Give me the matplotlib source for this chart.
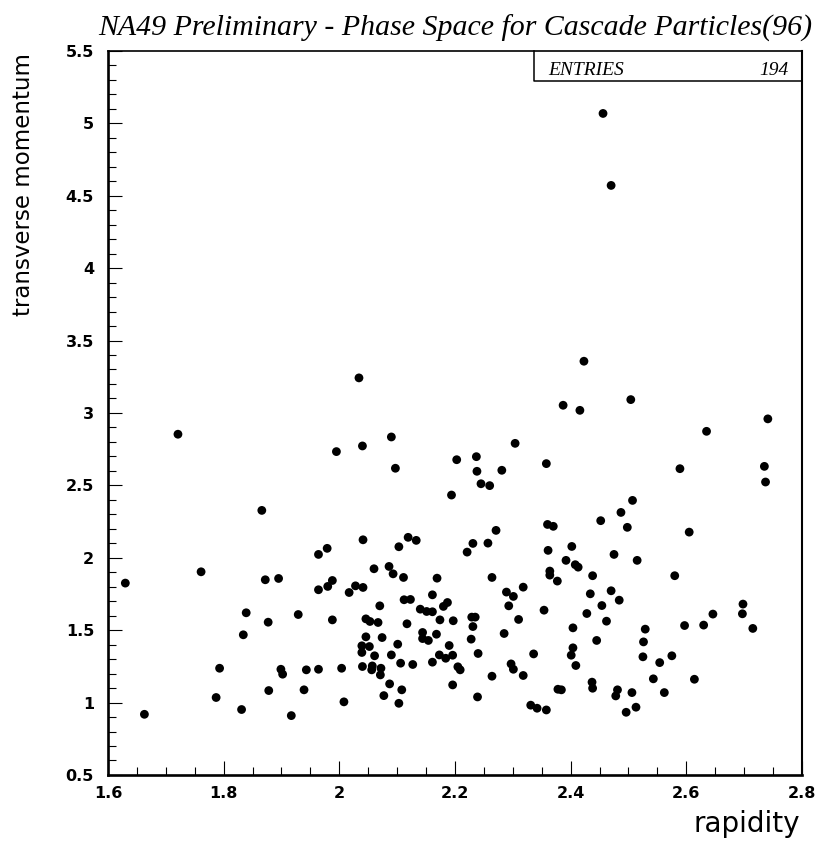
import matplotlib.pyplot as plt
from matplotlib import font_manager
from matplotlib.ticker import MultipleLocator, FormatStrFormatter
import numpy as np

# rapidity / transverse momentum of the cascade candidates
rapidity = [
    1.630, 1.663, 1.721, 1.761, 1.787, 1.793, 1.831, 1.834, 1.839, 1.866,
    1.872, 1.877, 1.878, 1.895, 1.899, 1.902, 1.917, 1.929, 1.939, 1.943,
    1.964, 1.964, 1.964,
    2.034, 2.090, 1.995, 2.040, 2.097, 2.304, 2.203, 2.237, 2.238, 2.281,
    2.245, 2.260, 2.194, 2.358, 2.360, 2.370, 2.361, 2.364, 2.364, 2.377,
    2.354, 2.378,
    2.271, 2.257, 2.231, 2.221, 2.264, 2.318, 2.289, 2.301, 2.293, 2.310,
    2.285, 2.336, 2.297, 2.301, 2.318, 2.264, 2.239, 2.331, 2.342, 2.358,
    2.240, 2.228, 2.231, 2.229, 2.235, 2.197, 2.196, 2.205, 2.209, 2.196,
    2.190, 2.184, 2.173, 2.174, 2.187, 2.180, 2.169, 2.161, 2.161, 2.168,
    2.144, 2.144, 2.154, 2.140, 2.151, 2.161, 2.127, 2.117, 2.112, 2.123,
    2.111, 2.093, 2.086, 2.103, 2.119, 2.133, 2.041, 2.060, 2.028, 2.041,
    2.017, 1.988, 1.980, 1.979,
    2.070, 2.046, 2.053, 2.067, 1.988,
    2.074, 2.046, 2.039, 2.052, 2.039, 2.061, 2.057, 2.056, 2.040, 2.072,
    2.071, 2.090, 2.101, 2.106, 2.087, 2.108, 2.077, 2.103, 2.008, 2.004,
    2.423, 2.387, 2.416, 2.504, 2.741, 2.635, 2.589, 2.735, 2.737, 2.507,
    2.487, 2.452, 2.498, 2.605, 2.402, 2.392, 2.408, 2.413, 2.475, 2.515,
    2.438, 2.580, 2.434, 2.470, 2.484, 2.454, 2.428, 2.462, 2.698, 2.697,
    2.646, 2.630, 2.597, 2.715, 2.529, 2.526, 2.525, 2.404, 2.404, 2.401,
    2.409, 2.445, 2.575, 2.554, 2.543, 2.614, 2.562, 2.437, 2.438, 2.481,
    2.478, 2.506, 2.513, 2.496, 2.384,
    2.456, 2.470,
]
pt = [
    1.825, 0.919, 2.853, 1.903, 1.035, 1.237, 0.952, 1.468, 1.620, 2.327,
    1.848, 1.555, 1.083, 1.857, 1.230, 1.196, 0.910, 1.608, 1.088, 1.226,
    1.230, 2.023, 1.779,
    3.242, 2.834, 2.733, 2.772, 2.618, 2.790, 2.677, 2.698, 2.597, 2.604,
    2.511, 2.498, 2.433, 2.650, 2.230, 2.217, 2.051, 1.908, 1.880, 1.839,
    1.638, 1.092,
    2.189, 2.101, 2.099, 2.039, 1.864, 1.797, 1.763, 1.733, 1.668, 1.574,
    1.477, 1.336, 1.267, 1.230, 1.187, 1.182, 1.039, 0.982, 0.961, 0.949,
    1.339, 1.438, 1.525, 1.590, 1.590, 1.565, 1.122, 1.247, 1.226, 1.327,
    1.394, 1.306, 1.329, 1.571, 1.691, 1.664, 1.859, 1.744, 1.279, 1.472,
    1.484, 1.442, 1.429, 1.645, 1.629, 1.627, 1.263, 1.544, 1.710, 1.712,
    1.864, 1.889, 1.940, 2.076, 2.141, 2.120, 2.124, 1.924, 1.806, 1.795,
    1.760, 1.843, 1.802, 2.065,
    1.668, 1.578, 1.560, 1.553, 1.571,
    1.449, 1.454, 1.392, 1.387, 1.346, 1.323, 1.253, 1.226, 1.249, 1.237,
    1.191, 1.329, 1.403, 1.272, 1.129, 1.088, 1.048, 0.995, 1.005, 1.237,
    3.357, 3.053, 3.018, 3.092, 2.959, 2.873, 2.615, 2.631, 2.523, 2.396,
    2.313, 2.256, 2.210, 2.177, 2.078, 1.982, 1.952, 1.935, 2.023, 1.982,
    1.876, 1.876, 1.751, 1.772, 1.707, 1.670, 1.615, 1.562, 1.680, 1.613,
    1.611, 1.535, 1.532, 1.512, 1.507, 1.419, 1.316, 1.516, 1.378, 1.327,
    1.256, 1.429, 1.323, 1.276, 1.164, 1.161, 1.069, 1.141, 1.099, 1.088,
    1.046, 1.069, 0.968, 0.933, 1.088,
    5.068, 4.571,
]
title = "NA49 Preliminary - Phase Space for Cascade Particles(96)"
n_entries = 194

fig = plt.figure(figsize=(8.18, 8.41), dpi=100)
ax = fig.add_axes([0.132, 0.0785, 0.8484, 0.861])

ax.scatter(rapidity, pt, s=40, c='black', edgecolors='none', zorder=3)

ax.set_xlim(1.6, 2.8)
ax.set_ylim(0.5, 5.5)
ax.xaxis.set_major_locator(MultipleLocator(0.2))
ax.xaxis.set_minor_locator(MultipleLocator(0.05))
ax.yaxis.set_major_locator(MultipleLocator(0.5))
ax.yaxis.set_minor_locator(MultipleLocator(0.1))
ax.xaxis.set_major_formatter(FormatStrFormatter('%g'))
ax.yaxis.set_major_formatter(FormatStrFormatter('%g'))

ax.tick_params(which='both', direction='in', top=False, right=False, width=0.8)
ax.tick_params(which='major', length=10)
ax.tick_params(which='minor', length=5.5)
ax.tick_params(axis='x', pad=8)
ax.tick_params(axis='y', pad=10)
for lab in ax.get_xticklabels() + ax.get_yticklabels():
    lab.set_fontfamily('DejaVu Sans')
    lab.set_fontweight('bold')
    lab.set_fontsize(11.5)

ax.spines['left'].set_linewidth(1.9)
ax.spines['bottom'].set_linewidth(1.9)
ax.spines['right'].set_linewidth(1.5)
ax.spines['top'].set_linewidth(1.2)

# statistics box in the upper right corner, like the PAW output
box_x0, box_y0 = 0.614, 0.9586
ax.plot([box_x0, box_x0, 1.0], [1.0, box_y0, box_y0], transform=ax.transAxes,
        color='black', lw=1.1, clip_on=False, zorder=4)
ax.text(0.634, 0.966, "ENTRIES", transform=ax.transAxes, ha='left', va='baseline',
        fontfamily='Liberation Serif', fontstyle='italic', fontsize=14)
ax.text(0.980, 0.966, str(n_entries), transform=ax.transAxes, ha='right', va='baseline',
        fontfamily='Liberation Serif', fontstyle='italic', fontsize=14)

fig.text(0.556, 1 - 36 / 841, title, ha='center', va='baseline',
         fontfamily='Liberation Serif', fontstyle='italic', fontsize=21.5)

fig.text(24 / 818, 1 - 53 / 841, "transverse momentum", rotation=90,
         ha='center', va='top', fontfamily='DejaVu Sans', fontsize=16.5)
fig.text(800 / 818, 1 - 832 / 841, "rapidity", ha='right', va='baseline',
         fontfamily='DejaVu Sans', fontsize=20)

fig.savefig("out.png", dpi=100)
